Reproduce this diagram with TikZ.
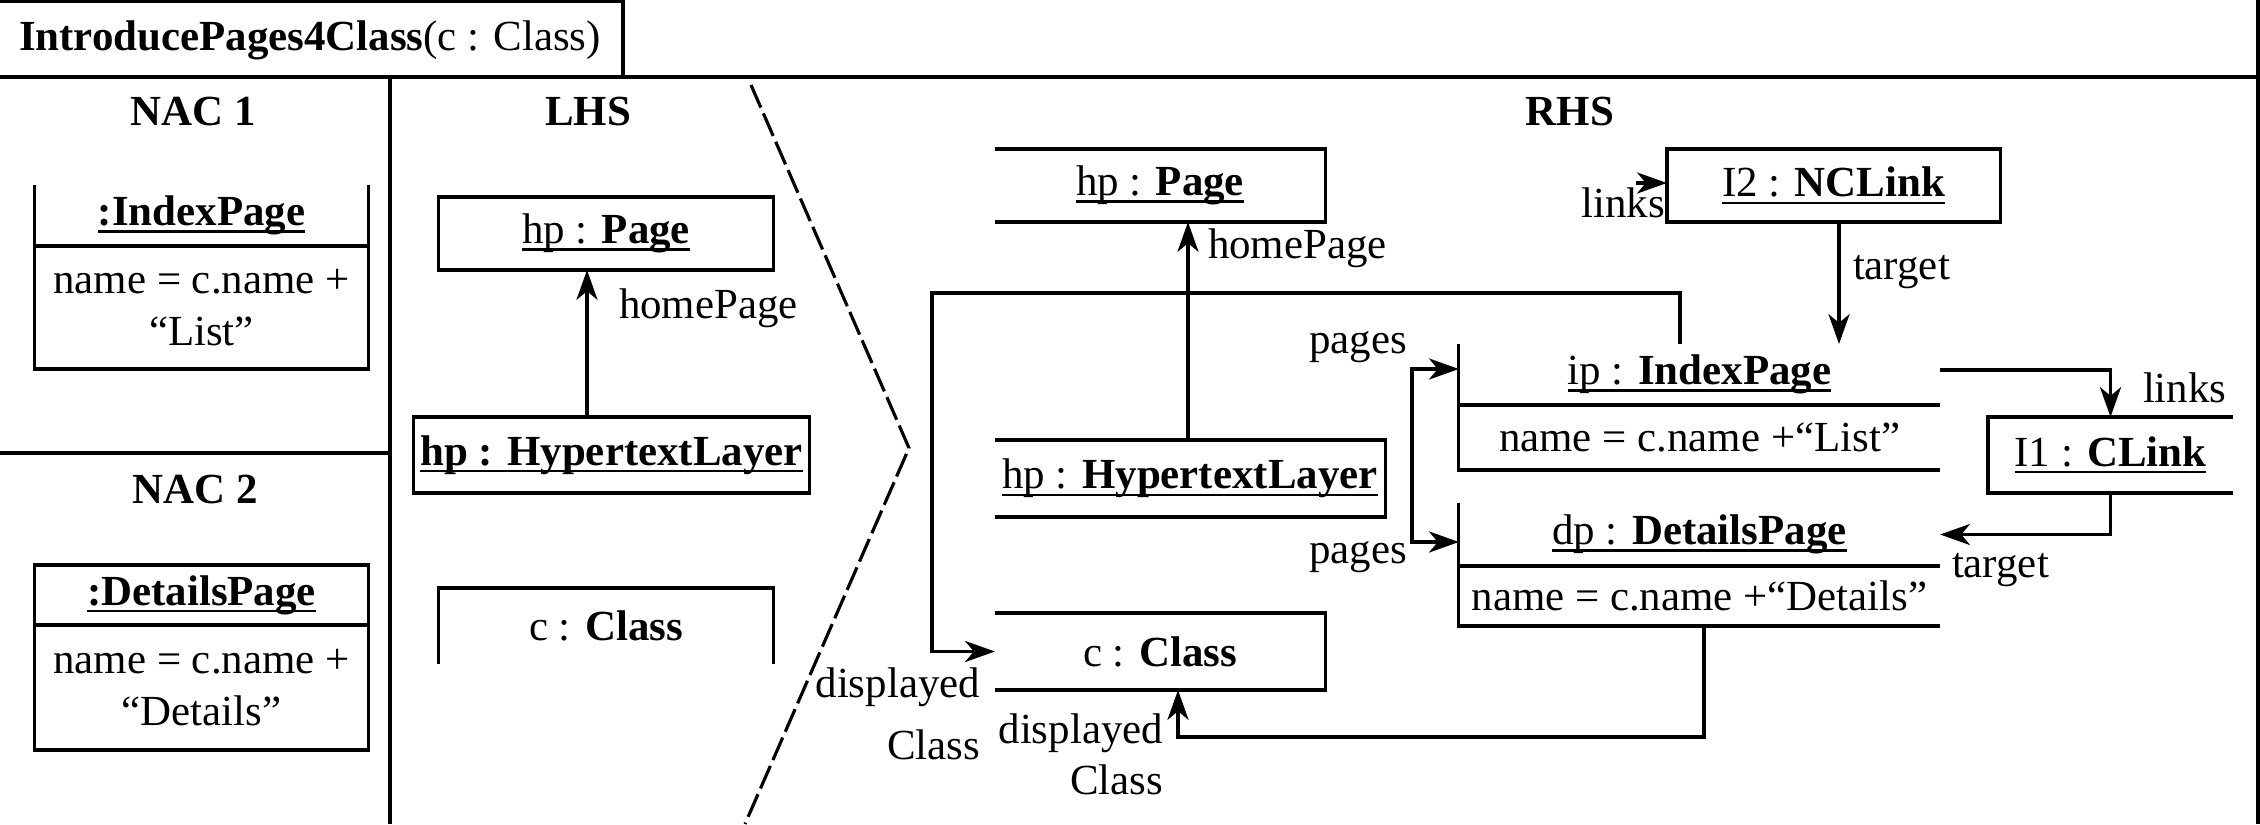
\documentclass[tikz,border=0pt]{standalone}
\usepackage{fontspec}
\setmainfont{Liberation Serif}
\usetikzlibrary{arrows.meta,calc}
\newcommand{\ulin}[1]{\setbox0\hbox{#1}\rlap{\rule[-2pt]{\wd0}{0.65pt}}\box0}
\begin{document}
\begin{tikzpicture}[x=0.01cm,y=-0.01cm,line width=0.9pt,
  every node/.style={font=\fontsize{12.2pt}{14.6pt}\selectfont, inner sep=0pt, outer sep=0pt},
  arr/.style={-{Stealth[length=8.5pt,width=6pt,inset=2.5pt]}},
  darr/.style={{Stealth[length=8.5pt,width=6pt,inset=2.5pt]}-{Stealth[length=8.5pt,width=6pt,inset=2.5pt]}},
  objbox/.style={align=center},
  fullbox/.style={draw, align=center},
  hdr/.style={font=\fontsize{12.2pt}{14.6pt}\selectfont\bfseries},
  lbl/.style={align=right},
  chev/.style={dash pattern=on 7pt off 1.8pt}]
\useasboundingbox (0,0) rectangle (2260,824);

% frame
\node[anchor=west] (title) at (19,40) {\textbf{IntroducePages4Class}(c : Class)};
\coordinate (tl) at (0,1.5); \coordinate (tr) at (623,1.5); \coordinate (tb) at (623,77);
\draw (tl) -- (tr) -- (tb);
\coordinate (fl) at (0,77); \coordinate (fr) at (2258,77);
\coordinate (frt) at (2258,0); \coordinate (frb) at (2258,824);
\draw (fl) -- (fr);
\draw (frt) -- (frb);
\coordinate (s1) at (390,77); \coordinate (s2) at (390,824);
\draw (s1) -- (s2);
\coordinate (h1) at (0,453); \coordinate (h2) at (390,453);
\draw (h1) -- (h2);

% headers
\node[hdr] (nac1) at (193,112) {NAC 1};
\node[hdr] (nac2) at (195,490) {NAC 2};
\node[hdr] (lhs) at (588,112) {LHS};
\node[hdr] (rhs) at (1570,112) {RHS};

% chevron
\coordinate (c1) at (751,85); \coordinate (c2) at (909,448); \coordinate (c3) at (745,824);
\draw[chev] (c1) -- (c2) -- (c3);

% NAC 1
\node[objbox, minimum width=3.33cm, minimum height=0.61cm] (n1) at (201.5,215.5) {\ulin{\textbf{:IndexPage}}};
\node[objbox, minimum width=3.33cm, minimum height=1.23cm] (n1a) at (201.5,307.5) {name = c.name +\\``List''};
\draw (n1.north west) -- (n1a.south west) -- (n1a.south east) -- (n1.north east);
\draw (n1.south west) -- (n1.south east);

% NAC 2
\node[objbox, minimum width=3.33cm, minimum height=0.60cm] (n2) at (201.5,595) {\ulin{\textbf{:DetailsPage}}};
\node[objbox, minimum width=3.33cm, minimum height=1.25cm] (n2a) at (201.5,687.5) {name = c.name +\\``Details''};
\draw (n2.north west) rectangle (n2a.south east);
\draw (n2.south west) -- (n2.south east);

% LHS
\node[fullbox, minimum width=3.34cm, minimum height=0.73cm] (lpage) at (606,233.5) {\ulin{hp : \textbf{Page}}};
\node[fullbox, minimum width=3.95cm, minimum height=0.76cm] (lhtl) at (611.5,455) {\ulin{\textbf{hp : HypertextLayer}}};
\node[objbox, minimum width=3.34cm, minimum height=0.76cm] (lclass) at (606,626) {c : \textbf{Class}};
\draw (lclass.south west) -- (lclass.north west) -- (lclass.north east) -- (lclass.south east);
\coordinate (lx) at (587,0);
\draw[arr] (lhtl.north -| lx) -- (lpage.south -| lx);
\node[anchor=west] (lhp) at (619,308) {homePage};

% RHS objects
\node[objbox, minimum width=3.30cm, minimum height=0.73cm] (rpage) at (1160,185.5) {\ulin{hp : \textbf{Page}}};
\draw (rpage.north west) -- (rpage.north east) -- (rpage.south east) -- (rpage.south west);
\node[objbox, minimum width=3.90cm, minimum height=0.77cm] (rhtl) at (1190,478.5) {\ulin{hp : \textbf{HypertextLayer}}};
\draw (rhtl.north west) -- (rhtl.north east) -- (rhtl.south east) -- (rhtl.south west);
\node[objbox, minimum width=3.30cm, minimum height=0.77cm] (rclass) at (1160,651.5) {c : \textbf{Class}};
\draw (rclass.north west) -- (rclass.north east) -- (rclass.south east) -- (rclass.south west);

\node[objbox, minimum width=4.81cm, minimum height=0.61cm] (ipn) at (1699.5,374.5) {\ulin{ip : \textbf{IndexPage}}};
\node[objbox, minimum width=4.81cm, minimum height=0.65cm] (ipa) at (1699.5,437.5) {name = c.name +``List''};
\draw (ipn.north west) -- (ipa.south west) -- (ipa.south east);
\draw (ipn.south west) -- (ipn.south east);

\node[objbox, minimum width=4.81cm, minimum height=0.63cm] (dpn) at (1699.5,534.5) {\ulin{dp : \textbf{DetailsPage}}};
\node[objbox, minimum width=4.81cm, minimum height=0.60cm] (dpa) at (1699.5,596) {name = c.name +``Details''};
\draw (dpn.north west) -- (dpa.south west) -- (dpa.south east);
\draw (dpn.south west) -- (dpn.south east);

\node[fullbox, minimum width=3.33cm, minimum height=0.73cm] (i2) at (1833.5,185.5) {\ulin{I2 : \textbf{NCLink}}};
\node[objbox, minimum width=2.45cm, minimum height=0.76cm] (i1) at (2110.5,455) {\ulin{I1 : \textbf{CLink}}};
\draw (i1.north east) -- (i1.north west) -- (i1.south west) -- (i1.south east);

% RHS connectors
\coordinate (hx) at (1188,0);
\draw[arr] (rhtl.north -| hx) -- (rpage.south -| hx);
\node[anchor=west] (rhp) at (1208,248) {homePage};

\coordinate (d1a) at (1680,293); \coordinate (d1b) at (932,293);
\draw[arr] (ipn.north west -| d1a) -- (d1a) -- (d1b) -- (d1b |- rclass.west) -- (rclass.west);
\node[lbl, anchor=east] (dc1) at (980,714) {displayed\\[3pt]Class};

\coordinate (d2a) at (1704,737); \coordinate (d2b) at (1178,737);
\draw[arr] (dpa.south -| d2a) -- (d2a) -- (d2b) -- (rclass.south -| d2b);
\node[lbl, anchor=east] (dc2) at (1163,754) {displayed\\Class};

\coordinate (pg1) at (1412,369); \coordinate (pg2) at (1412,542);
\draw[darr] (ipn.west |- pg1) -- (pg1) -- (pg2) -- (dpn.west |- pg2);
\node[anchor=east] (pl1) at (1407,347) {pages};
\node[anchor=east] (pl2) at (1407,557) {pages};

\coordinate (lkin) at (1636,183);
\draw[arr] (lkin) -- (i2.west |- lkin);
\node[anchor=east] (lk1) at (1665,203) {links};

\coordinate (tx) at (1839,0);
\draw[arr] (i2.south -| tx) -- (ipn.north -| tx);
\node[anchor=west] (tg1) at (1853,272) {target};

\coordinate (lk) at (1940,370);
\draw[arr] (lk) -| (i1.north);
\node[anchor=west] (lk2) at (2143,388) {links};

\draw[arr] (i1.south) |- (dpn.east);
\node[anchor=west] (tg2) at (1952,570) {target};
\end{tikzpicture}
\end{document}
